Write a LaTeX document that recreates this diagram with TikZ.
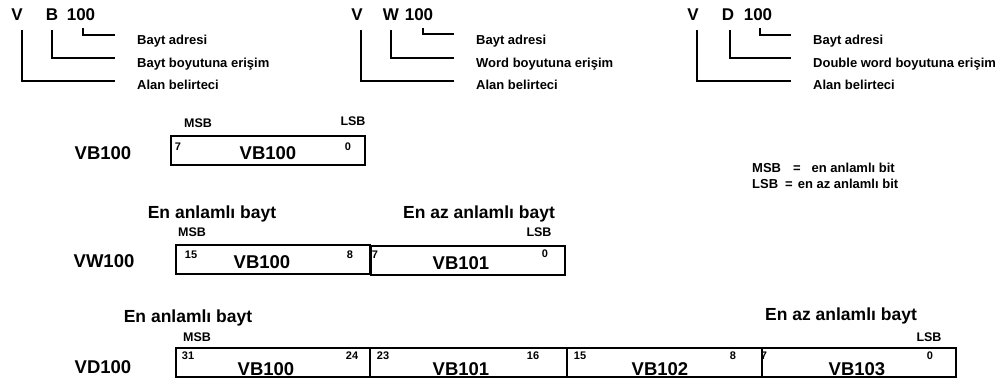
\documentclass[tikz,border=0pt]{standalone}
\usepackage{fontspec}
\setmainfont{Liberation Sans}
\begin{document}
\begin{tikzpicture}[x=1pt,y=-1pt,
 big/.style={font=\bfseries\fontsize{18.5}{20}\selectfont, inner sep=0},
 topl/.style={font=\bfseries\fontsize{17}{19}\selectfont, inner sep=0},
 lab/.style={font=\bfseries\fontsize{13}{15}\selectfont, inner sep=0, anchor=base west},
 sml/.style={font=\bfseries\fontsize{12.5}{14}\selectfont, inner sep=0},
 bit/.style={font=\bfseries\fontsize{11}{13}\selectfont, inner sep=0},
 hdr/.style={font=\bfseries\fontsize{17.5}{19}\selectfont, inner sep=0, anchor=base},
 box/.style={draw, line width=1.5pt, minimum height=29pt, inner sep=0, outer sep=0},
 brk/.style={line width=2.7pt, shorten >=22.5pt},
]
\useasboundingbox (0,0) rectangle (1003,380);

% ---------- top block 1 ----------
\node[topl] (a1) at (17,15) {V};
\node[topl] (a2) at (52,15) {B};
\node[topl] (a3) at (81,15) {100};
\node[lab] (al1) at (137,44) {Bayt adresi};
\node[lab] (al2) at (137,67) {Bayt boyutuna erişim};
\node[lab] (al3) at (137,89) {Alan belirteci};
\draw[brk] ([xshift=2pt,yshift=-7pt]a3.south) |- ([yshift=9pt]al1.base west);
\draw[brk] ([xshift=0pt,yshift=-9pt]a2.south) |- ([yshift=9pt]al2.base west);
\draw[brk] ([xshift=5pt,yshift=-9pt]a1.south) |- ([yshift=8pt]al3.base west);

% ---------- top block 2 ----------
\node[topl] (b1) at (357,15) {V};
\node[topl] (b2) at (391,15) {W};
\node[topl] (b3) at (419,15) {100};
\node[lab] (bl1) at (476,44) {Bayt adresi};
\node[lab] (bl2) at (476,67) {Word boyutuna erişim};
\node[lab] (bl3) at (476,89) {Alan belirteci};
\draw[brk] ([xshift=4pt,yshift=-7pt]b3.south) |- ([yshift=10pt]bl1.base west);
\draw[brk] ([xshift=0pt,yshift=-9pt]b2.south) |- ([yshift=9pt]bl2.base west);
\draw[brk] ([xshift=4pt,yshift=-9pt]b1.south) |- ([yshift=8pt]bl3.base west);

% ---------- top block 3 ----------
\node[topl] (c1) at (693,15) {V};
\node[topl] (c2) at (728,15) {D};
\node[topl] (c3) at (758,15) {100};
\node[lab] (cl1) at (813,44) {Bayt adresi};
\node[lab] (cl2) at (813,67) {Double word boyutuna erişim};
\node[lab] (cl3) at (813,89) {Alan belirteci};
\draw[brk] ([xshift=2pt,yshift=-7pt]c3.south) |- ([yshift=9pt]cl1.base west);
\draw[brk] ([xshift=2pt,yshift=-9pt]c2.south) |- ([yshift=9pt]cl2.base west);
\draw[brk] ([xshift=4pt,yshift=-9pt]c1.south) |- ([yshift=8pt]cl3.base west);

% ---------- legend ----------
\node[lab] (lg1) at (752,172) {MSB\hspace{12pt}=\hspace{11pt}en anlamlı bit};
\node[lab] (lg2) at (752,188) {LSB\hspace{7pt}=\hspace{5pt}en az anlamlı bit};

% ---------- row 1 ----------
\node[big] (n1) at (103,153) {VB100};
\node[sml] (m1) at (198,123.5) {MSB};
\node[sml] (s1) at (353,121.5) {LSB};
\node[box, minimum width=194pt] (r1) at (268,150.5) {};
\node[big] (t1) at (268,153) {VB100};
\node[bit] (r1a) at (178,147) {7};
\node[bit] (r1b) at (348,147) {0};

% ---------- row 2 ----------
\node[hdr] (h21) at (212,218) {En anlamlı bayt};
\node[hdr] (h22) at (479,218) {En az anlamlı bayt};
\node[sml] (m2) at (192,232) {MSB};
\node[sml] (s2) at (539,232) {LSB};
\node[big] (n2) at (104,261) {VW100};
\node[box, minimum width=194pt] (w1) at (273,259.5) {};
\node[box, minimum width=194pt] (w2) at (468,260.5) {};
\node[big] (tw1) at (262,262) {VB100};
\node[big] (tw2) at (461,263) {VB101};
\node[bit] (w1a) at (191,255) {15};
\node[bit] (w1b) at (350,255) {8};
\node[bit] (w2a) at (375,255) {7};
\node[bit] (w2b) at (545,254) {0};

% ---------- row 3 ----------
\node[hdr] (h31) at (188,322) {En anlamlı bayt};
\node[hdr] (h32) at (841,320) {En az anlamlı bayt};
\node[sml] (m3) at (197,337) {MSB};
\node[sml] (s3) at (929,337) {LSB};
\node[big] (n3) at (103,367) {VD100};
\node[box, minimum width=194pt] (d1) at (273,362.5) {};
\node[box, minimum width=197pt] (d2) at (468.5,362.5) {};
\node[box, minimum width=195pt] (d3) at (664.5,362.5) {};
\node[box, minimum width=194pt] (d4) at (859,362.5) {};
\node[big] (td1) at (266,369) {VB100};
\node[big] (td2) at (461,369) {VB101};
\node[big] (td3) at (660,369) {VB102};
\node[big] (td4) at (857,369) {VB103};
\node[bit] (d1a) at (188,356) {31};
\node[bit] (d1b) at (352,356) {24};
\node[bit] (d2a) at (383,356) {23};
\node[bit] (d2b) at (533,356) {16};
\node[bit] (d3a) at (580,356) {15};
\node[bit] (d3b) at (733,356) {8};
\node[bit] (d4a) at (764,356) {7};
\node[bit] (d4b) at (930,356) {0};
\end{tikzpicture}
\end{document}
